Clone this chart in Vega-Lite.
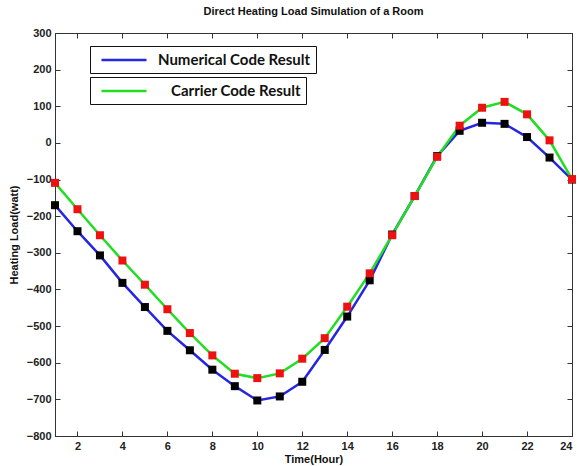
{
  "$schema": "https://vega.github.io/schema/vega-lite/v6.json",
  "width": 517,
  "height": 403,
  "autosize": "none",
  "padding": {"left": 55, "top": 33, "right": 7, "bottom": 30},
  "background": "white",
  "title": {"text": "Direct Heating Load Simulation of a Room", "fontSize": 11, "font": "Liberation Sans", "fontWeight": "bold", "offset": 10, "color": "#111"},
  "config": {
    "view": {"stroke": "#333", "strokeWidth": 1},
    "axis": {"labelFont": "Liberation Sans", "labelFontSize": 11, "labelFontWeight": "bold", "labelColor": "#222", "titleFont": "Liberation Sans", "titleFontSize": 11, "titleFontWeight": "bold", "titleColor": "#111", "domainColor": "#333", "tickColor": "#333", "grid": false, "tickSize": -5, "labelPadding": 9}
  },
  "data": {"values": [
    {"hour": 1, "series": "Numerical Code Result", "load": -170},
    {"hour": 2, "series": "Numerical Code Result", "load": -241},
    {"hour": 3, "series": "Numerical Code Result", "load": -307},
    {"hour": 4, "series": "Numerical Code Result", "load": -382},
    {"hour": 5, "series": "Numerical Code Result", "load": -448},
    {"hour": 6, "series": "Numerical Code Result", "load": -513},
    {"hour": 7, "series": "Numerical Code Result", "load": -566},
    {"hour": 8, "series": "Numerical Code Result", "load": -619},
    {"hour": 9, "series": "Numerical Code Result", "load": -664},
    {"hour": 10, "series": "Numerical Code Result", "load": -703},
    {"hour": 11, "series": "Numerical Code Result", "load": -692},
    {"hour": 12, "series": "Numerical Code Result", "load": -652},
    {"hour": 13, "series": "Numerical Code Result", "load": -565},
    {"hour": 14, "series": "Numerical Code Result", "load": -474},
    {"hour": 15, "series": "Numerical Code Result", "load": -375},
    {"hour": 16, "series": "Numerical Code Result", "load": -250},
    {"hour": 17, "series": "Numerical Code Result", "load": -145},
    {"hour": 18, "series": "Numerical Code Result", "load": -36},
    {"hour": 19, "series": "Numerical Code Result", "load": 33},
    {"hour": 20, "series": "Numerical Code Result", "load": 55},
    {"hour": 21, "series": "Numerical Code Result", "load": 52},
    {"hour": 22, "series": "Numerical Code Result", "load": 16},
    {"hour": 23, "series": "Numerical Code Result", "load": -40},
    {"hour": 24, "series": "Numerical Code Result", "load": -100},
    {"hour": 1, "series": "Carrier Code Result", "load": -109},
    {"hour": 2, "series": "Carrier Code Result", "load": -181},
    {"hour": 3, "series": "Carrier Code Result", "load": -252},
    {"hour": 4, "series": "Carrier Code Result", "load": -321},
    {"hour": 5, "series": "Carrier Code Result", "load": -387},
    {"hour": 6, "series": "Carrier Code Result", "load": -454},
    {"hour": 7, "series": "Carrier Code Result", "load": -519},
    {"hour": 8, "series": "Carrier Code Result", "load": -580},
    {"hour": 9, "series": "Carrier Code Result", "load": -630},
    {"hour": 10, "series": "Carrier Code Result", "load": -642},
    {"hour": 11, "series": "Carrier Code Result", "load": -629},
    {"hour": 12, "series": "Carrier Code Result", "load": -589},
    {"hour": 13, "series": "Carrier Code Result", "load": -533},
    {"hour": 14, "series": "Carrier Code Result", "load": -447},
    {"hour": 15, "series": "Carrier Code Result", "load": -356},
    {"hour": 16, "series": "Carrier Code Result", "load": -252},
    {"hour": 17, "series": "Carrier Code Result", "load": -145},
    {"hour": 18, "series": "Carrier Code Result", "load": -38},
    {"hour": 19, "series": "Carrier Code Result", "load": 47},
    {"hour": 20, "series": "Carrier Code Result", "load": 96},
    {"hour": 21, "series": "Carrier Code Result", "load": 112},
    {"hour": 22, "series": "Carrier Code Result", "load": 78},
    {"hour": 23, "series": "Carrier Code Result", "load": 7},
    {"hour": 24, "series": "Carrier Code Result", "load": -99}
  ]},
  "layer": [
    {
      "encoding": {
        "x": {"field": "hour", "type": "quantitative", "scale": {"domain": [1, 24], "nice": false, "zero": false},
          "axis": {"orient": "bottom", "values": [2, 4, 6, 8, 10, 12, 14, 16, 18, 20, 22, 24], "title": "Time(Hour)", "titlePadding": 2}},
        "y": {"field": "load", "type": "quantitative", "scale": {"domain": [-800, 300], "nice": false},
          "axis": {"orient": "left", "values": [-800, -700, -600, -500, -400, -300, -200, -100, 0, 100, 200, 300], "title": "Heating Load(watt)", "titlePadding": 7}}
      },
      "layer": [
        {
          "transform": [{"filter": "datum.series === 'Numerical Code Result'"}],
          "mark": {"type": "line", "strokeWidth": 2.5},
          "encoding": {
            "stroke": {"field": "series", "type": "nominal", "scale": {"range": ["#2626e0"]},
              "legend": {"title": null, "orient": "none", "legendX": 35, "legendY": 13, "strokeColor": "#111", "fillColor": "white", "padding": 5,
                "symbolType": "M-3,0H3", "symbolSize": 225, "symbolOffset": 20, "symbolStrokeWidth": 2.5, "labelFont": "Lato", "labelFontSize": 15, "labelFontWeight": "bold", "labelColor": "#111", "labelOffset": 25, "labelLimit": 400}}
          }
        },
        {
          "transform": [{"filter": "datum.series === 'Carrier Code Result'"}],
          "mark": {"type": "line", "strokeWidth": 2.5},
          "encoding": {
            "color": {"field": "series", "type": "nominal", "scale": {"range": ["#22dd22"]},
              "legend": {"title": null, "orient": "none", "legendX": 35, "legendY": 44, "strokeColor": "#111", "fillColor": "white", "padding": 5,
                "symbolType": "M-3,0H3", "symbolSize": 225, "symbolOffset": 20, "symbolStrokeWidth": 2.5, "labelFont": "Lato", "labelFontSize": 15, "labelFontWeight": "bold", "labelColor": "#111", "labelOffset": 38, "labelLimit": 400}}
          }
        },
        {
          "transform": [{"filter": "datum.series === 'Numerical Code Result'"}],
          "mark": {"type": "square", "size": 64, "color": "black", "opacity": 1, "filled": true}
        },
        {
          "transform": [{"filter": "datum.series === 'Carrier Code Result'"}],
          "mark": {"type": "square", "size": 64, "color": "#ee1111", "opacity": 1, "filled": true}
        }
      ]
    },
    {
      "mark": {"type": "point", "opacity": 0},
      "encoding": {
        "x": {"field": "hour", "type": "quantitative", "scale": {"domain": [1, 24], "nice": false, "zero": false}, "axis": {"orient": "top", "values": [2, 4, 6, 8, 10, 12, 14, 16, 18, 20, 22, 24], "labels": false, "title": null}},
        "y": {"field": "load", "type": "quantitative", "scale": {"domain": [-800, 300], "nice": false}, "axis": {"orient": "right", "values": [-800, -700, -600, -500, -400, -300, -200, -100, 0, 100, 200, 300], "labels": false, "title": null}}
      }
    }
  ],
  "resolve": {"axis": {"x": "independent", "y": "independent"}}
}
